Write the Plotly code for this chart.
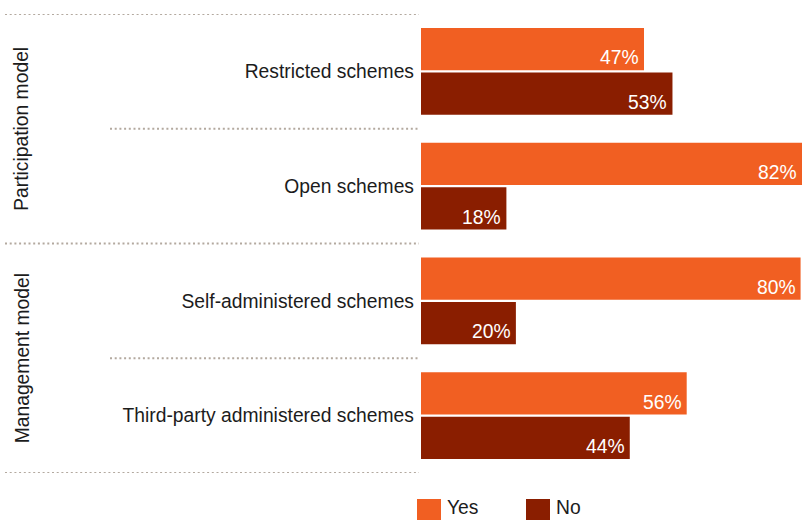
import plotly.graph_objects as go

categories = ["Restricted schemes", "Open schemes", "Self-administered schemes", "Third-party administered schemes"]
groups = ["Participation model", "Management model"]
group_members = [[0, 1], [2, 3]]
yes_values = [47, 82, 80, 56]
no_values = [53, 18, 20, 44]
series_names = ["Yes", "No"]

ORANGE = "#F15F22"
DARK = "#8A1E00"
TXT = "#1c1c1c"
FONT = "Liberation Sans, Arial, Helvetica, sans-serif"
FS = 19.3

W, H = 802, 520
ML, MR, MT, MB = 421, 0, 14, 47
XMAX = 80.3
BARGAP = 0.225
BARGROUPGAP = 0.045

fig = go.Figure()
fig.add_trace(go.Bar(y=categories, x=yes_values, orientation="h", name=series_names[0],
                     marker=dict(color=ORANGE, line=dict(width=0)), showlegend=False,
                     hoverinfo="x+y"))
fig.add_trace(go.Bar(y=categories, x=no_values, orientation="h", name=series_names[1],
                     marker=dict(color=DARK, line=dict(width=0)), showlegend=False,
                     hoverinfo="x+y"))

# value labels, bottom-right inside each bar
slot = (1 - BARGAP) / 2
barw = slot * (1 - BARGROUPGAP)
annotations = []
for k, vals in enumerate([yes_values, no_values]):
    off = (-slot / 2) if k == 0 else (slot / 2)
    for i, v in enumerate(vals):
        annotations.append(dict(
            x=min(v, XMAX), y=i + off + barw / 2, xref="x", yref="y",
            text=f"{v}%", showarrow=False, xanchor="right", yanchor="bottom",
            xshift=-3, yshift=0,
            font=dict(family=FONT, size=FS, color="#ffffff")))

# group labels (rotated)
for g, members in zip(groups, group_members):
    annotations.append(dict(
        x=-1.047, xref="paper", y=(members[0] + members[-1]) / 2, yref="y",
        text=g, textangle=-90, showarrow=False, xanchor="center", yanchor="middle",
        font=dict(family=FONT, size=FS, color=TXT)))

# separators
pw = W - ML - MR
def px_to_paper_x(px):
    return (px - ML) / pw

shapes = []
boundaries = [-0.5, 0.5, 1.5, 2.5, 3.5]
full = {-0.5, 1.5, 3.5}
for b in boundaries:
    x0 = px_to_paper_x(5) if b in full else px_to_paper_x(110)
    shapes.append(dict(type="line", xref="paper", yref="y", x0=x0, x1=px_to_paper_x(419),
                       y0=b, y1=b, line=dict(color="#b3a99f", width=2, dash="2px,2.7px")))

# legend (manual)
ph = H - MT - MB
def px_to_paper_y(py):
    return (H - MB - py) / ph

for name, color, xs in [(series_names[0], ORANGE, 417), (series_names[1], DARK, 526)]:
    shapes.append(dict(type="rect", xref="paper", yref="paper",
                       x0=px_to_paper_x(xs), x1=px_to_paper_x(xs + 24),
                       y0=px_to_paper_y(499), y1=px_to_paper_y(530),
                       fillcolor=color, line=dict(width=0)))
    annotations.append(dict(x=px_to_paper_x(xs + 28), y=px_to_paper_y(519.5), xref="paper", yref="paper",
                            text=name, showarrow=False, xanchor="left", yanchor="bottom",
                            font=dict(family=FONT, size=FS, color=TXT)))

fig.update_layout(
    width=W, height=H,
    margin=dict(l=ML, r=MR, t=MT, b=MB, pad=0),
    paper_bgcolor="white", plot_bgcolor="white",
    barmode="group", bargap=BARGAP, bargroupgap=BARGROUPGAP,
    font=dict(family=FONT, size=FS, color=TXT),
    xaxis=dict(range=[0, XMAX], visible=False, showgrid=False, zeroline=False, fixedrange=True),
    yaxis=dict(type="category", categoryorder="array", categoryarray=categories,
               range=[3.5, -0.5], showgrid=False, zeroline=False, showline=False,
               ticks="", ticklabelstandoff=6, tickfont=dict(family=FONT, size=FS, color=TXT),
               fixedrange=True),
    annotations=annotations, shapes=shapes,
)

fig.write_html("out.html", config={"displayModeBar": False},
               post_script="document.body.style.margin='0px';document.body.style.overflow='hidden';")
